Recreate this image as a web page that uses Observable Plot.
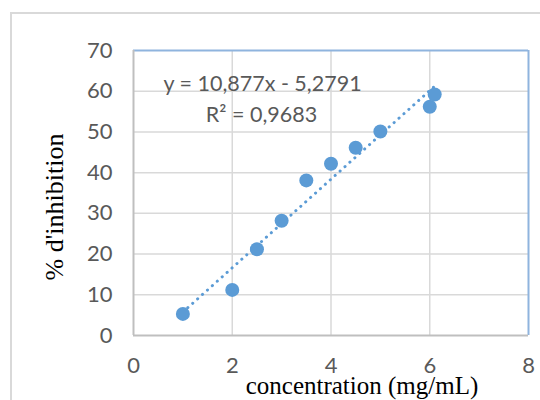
<!DOCTYPE html>
<html>
<head>
<meta charset="utf-8">
<script src="https://cdn.jsdelivr.net/npm/d3@7"></script>
<script src="https://cdn.jsdelivr.net/npm/@observablehq/plot@0.6"></script>
<style>
  html, body { margin: 0; padding: 0; background: #fff; }
  #wrap { position: relative; width: 540px; height: 400px; overflow: hidden; }
  #border { position: absolute; left: 10px; top: 12px; width: 600px; height: 600px; border: 2px solid #d9d9d9; box-sizing: border-box; }
  #chart { position: absolute; left: 0; top: 0; }
  #chart g[aria-label$="tick label"] { font-size: 22px; font-family: Lato, "Open Sans", sans-serif; }
</style>
</head>
<body>
<div id="wrap"><div id="border"></div><div id="chart"></div></div>
<script>
const concentration = [1, 2, 2.5, 3, 3.5, 4, 4.5, 5, 6, 6.1];
const inhibition = [5.3, 11.2, 21.2, 28.2, 38.1, 42.2, 46.1, 50.1, 56.2, 59.2];
const xTicks = [0, 2, 4, 6, 8];
const yTicks = [0, 10, 20, 30, 40, 50, 60, 70];
const equationLines = ["y = 10,877x - 5,2791", "R² = 0,9683"];
const xTitle = "concentration (mg/mL)";
const yTitle = "% d'inhibition";

const data = concentration.map((c, i) => ({x: c, y: inhibition[i]}));
const blue = "#5B9BD5";
const grid = "#d9d9d9";
const tickFont = "Lato, Open Sans, sans-serif";

const chart = Plot.plot({
  width: 540,
  height: 400,
  marginLeft: 133,
  marginRight: 12,
  marginTop: 50,
  marginBottom: 65,
  style: {background: "transparent", fontFamily: tickFont, fontSize: "22px", color: "#595959"},
  x: {domain: [0, 8], ticks: xTicks, label: null},
  y: {domain: [0, 70], ticks: yTicks, label: null},
  marks: [
    Plot.ruleY(yTicks.filter(d => d > 0 && d < 70), {stroke: grid, strokeWidth: 1.5}),
    Plot.ruleX(xTicks.filter(d => d > 0 && d < 8), {stroke: grid, strokeWidth: 1.5}),
    Plot.ruleY([70], {stroke: "#8FB4DE", strokeWidth: 2}),
    Plot.ruleX([8], {stroke: "#8FB4DE", strokeWidth: 2}),
    Plot.ruleY([0], {stroke: "#bfbfbf", strokeWidth: 2}),
    Plot.ruleX([0], {stroke: "#bfbfbf", strokeWidth: 2}),
    Plot.axisX({ticks: xTicks, tickSize: 0, tickPadding: 22, fontSize: 22, fill: "#595959", label: null}),
    Plot.axisY({ticks: yTicks, tickSize: 0, tickPadding: 21, fontSize: 22, fill: "#595959", label: null}),
    Plot.linearRegressionY(data, {x: "x", y: "y", stroke: blue, strokeWidth: 3, strokeDasharray: "0.1 6.5", strokeLinecap: "round", ci: 0}),
    Plot.dot(data, {x: "x", y: "y", r: 7, fill: blue, stroke: "none"}),
    Plot.text([equationLines[0]], {frameAnchor: "top-left", dx: 129, dy: 25, text: d => d, fontSize: 21.5, fill: "#595959", textAnchor: "middle"}),
    Plot.text([equationLines[1]], {frameAnchor: "top-left", dx: 128, dy: 56, text: d => d, fontSize: 21.5, fill: "#595959", textAnchor: "middle"})
  ]
});
document.getElementById("chart").appendChild(chart);

// Axis titles (serif)
const svg = d3.select(chart);
svg.append("text")
  .attr("x", 362).attr("y", 394)
  .attr("text-anchor", "middle")
  .attr("font-family", "Liberation Serif, Times New Roman, serif")
  .attr("font-size", 25)
  .attr("fill", "#000")
  .text(xTitle);
svg.append("text")
  .attr("transform", "translate(63,207) rotate(-90)")
  .attr("text-anchor", "middle")
  .attr("font-family", "Liberation Serif, Times New Roman, serif")
  .attr("font-size", 26)
  .attr("fill", "#000")
  .text(yTitle);
</script>
</body>
</html>
